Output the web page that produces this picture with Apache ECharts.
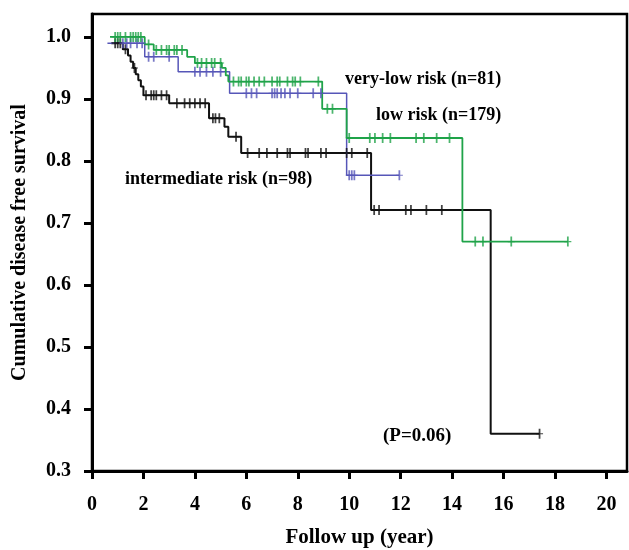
<!DOCTYPE html>
<html>
<head>
<meta charset="utf-8">
<script src="https://cdn.jsdelivr.net/npm/echarts@6/dist/echarts.min.js"></script>
<style>
html,body{margin:0;padding:0;background:#fff;}
#chart{width:629px;height:550px;}
</style>
</head>
<body>
<div id="chart"></div>
<script>
// step points (time, survival after the step)
var greenX = [0.7, 2.05, 2.4, 3.7, 4.0, 5.05, 5.2, 5.3, 8.95, 9.9, 14.4, 18.5];
var greenY = [1.0, 0.988, 0.979, 0.968, 0.958, 0.95, 0.938, 0.928, 0.884, 0.837, 0.67, 0.67];
var greenCens = [0.9,1.0,1.1,1.3,1.5,1.6,1.7,1.8,1.9,2.2,2.5,2.7,2.9,3.0,3.2,3.3,3.5,4.1,4.26,4.45,4.65,4.77,5.0,
	5.5,5.7,5.8,6.0,6.1,6.3,6.5,6.7,7.0,7.2,7.3,7.6,7.8,7.9,8.1,8.8,9.15,9.35,
	10.0,10.8,11.0,11.3,11.6,12.6,12.9,13.4,13.9,14.9,15.2,16.3,18.5];

var blueX = [0.6, 2.05, 3.35, 5.35, 9.9, 11.95];
var blueY = [0.99, 0.968, 0.944, 0.909, 0.777, 0.777];
var blueCens = [1.2,1.35,1.5,1.75,1.95,2.2,2.4,3.0,4.0,4.2,4.45,4.7,5.0,6.0,6.2,6.4,7.0,7.1,7.2,7.35,7.5,7.7,
	8.0,8.6,8.9,10.0,10.1,10.2,11.95];

var blackX = [0.75,1.2,1.4,1.5,1.6,1.7,1.8,1.9,2.0,3.0,4.55,5.15,5.3,5.8,10.85,15.5,17.4];
var blackY = [0.99,0.98,0.97,0.96,0.95,0.94,0.93,0.92,0.906,0.893,0.869,0.855,0.839,0.813,0.721,0.36,0.36];
var blackCens = [0.9,1.0,1.1,1.3,1.65,2.1,2.3,2.4,2.5,2.7,2.9,3.3,3.6,3.8,4.0,4.2,4.4,4.7,4.8,4.95,5.6,
	6.05,6.5,6.8,7.2,7.6,7.7,8.3,8.4,8.9,9.1,9.9,10.1,10.7,10.97,11.16,12.2,12.4,13.0,13.6,17.4];

var xTicks = [0,2,4,6,8,10,12,14,16,18,20];
var yTicks = [0.3,0.4,0.5,0.6,0.7,0.8,0.9,1.0];

var serif = '"Liberation Serif", "DejaVu Serif", serif';
var plus = 'path://M3,0h2v4h3v1h-3v4h-2v-4h-3v-1h3z';

function pairs(xs, ys){
	var out = [];
	for(var i=0;i<xs.length;i++) out.push([xs[i], ys[i]]);
	return out;
}
// survival level at a censoring time
function levelAt(xs, ys, t){
	var v = ys[0];
	for(var i=0;i<xs.length;i++){
		if(xs[i] <= t + 1e-9) v = ys[i];
	}
	return v;
}
function cens(xs, ys, ts){
	return ts.map(function(t){ return [t, levelAt(xs, ys, t)]; });
}

function curve(name, xs, ys, ts, color, width){
	return [{
		name: name,
		type: 'line',
		step: 'end',
		data: pairs(xs, ys),
		showSymbol: false,
		lineStyle: {color: color, width: width},
		z: 2
	},{
		name: name + ' censored',
		type: 'scatter',
		data: cens(xs, ys, ts),
		symbol: plus,
		symbolSize: [7, 10],
		itemStyle: {color: color},
		z: 3
	}];
}

var myChart = echarts.init(document.getElementById('chart'));
var option = {
	animation: false,
	grid: {left: 92, top: 14, right: 2, bottom: 79, show: true, borderColor: '#000', borderWidth: 2.5,
		outerBoundsMode: 'none', containLabel: false},
	xAxis: {
		type: 'value', min: 0, max: 20.8,
		splitLine: {show: false},
		axisLine: {lineStyle: {color: '#000', width: 3}},
		axisTick: {length: 8, customValues: xTicks, lineStyle: {color: '#000', width: 3}},
		axisLabel: {customValues: xTicks, margin: 24, color: '#000', fontFamily: serif, fontWeight: 'bold', fontSize: 20},
		name: 'Follow up (year)', nameLocation: 'middle', nameGap: 56,
		nameTextStyle: {color: '#000', fontFamily: serif, fontWeight: 'bold', fontSize: 21}
	},
	yAxis: {
		type: 'value', min: 0.3, max: 1.037,
		splitLine: {show: false},
		axisLine: {lineStyle: {color: '#000', width: 3}},
		axisTick: {length: 8, customValues: yTicks, lineStyle: {color: '#000', width: 3}},
		axisLabel: {customValues: yTicks, margin: 21, color: '#000', fontFamily: serif, fontWeight: 'bold', fontSize: 20,
			formatter: function(v){ return v.toFixed(1); }},
		name: 'Cumulative disease free survival', nameLocation: 'middle', nameGap: 62,
		nameTextStyle: {color: '#000', fontFamily: serif, fontWeight: 'bold', fontSize: 20}
	},
	graphic: [
		{type: 'text', left: 345, top: 70, style: {text: 'very-low risk (n=81)', fill: '#000', font: 'bold 18px ' + serif}},
		{type: 'text', left: 376, top: 106, style: {text: 'low risk (n=179)', fill: '#000', font: 'bold 18px ' + serif}},
		{type: 'text', left: 125, top: 170, style: {text: 'intermediate risk (n=98)', fill: '#000', font: 'bold 18px ' + serif}},
		{type: 'text', left: 383, top: 427, style: {text: '(P=0.06)', fill: '#000', font: 'bold 19px ' + serif}}
	],
	series: [].concat(
		curve('intermediate', blackX, blackY, blackCens, '#111111', 2),
		curve('blue', blueX, blueY, blueCens, '#5656b8', 1.5),
		curve('green', greenX, greenY, greenCens, '#1fa349', 1.8)
	)
};
myChart.setOption(option);
</script>
</body>
</html>
